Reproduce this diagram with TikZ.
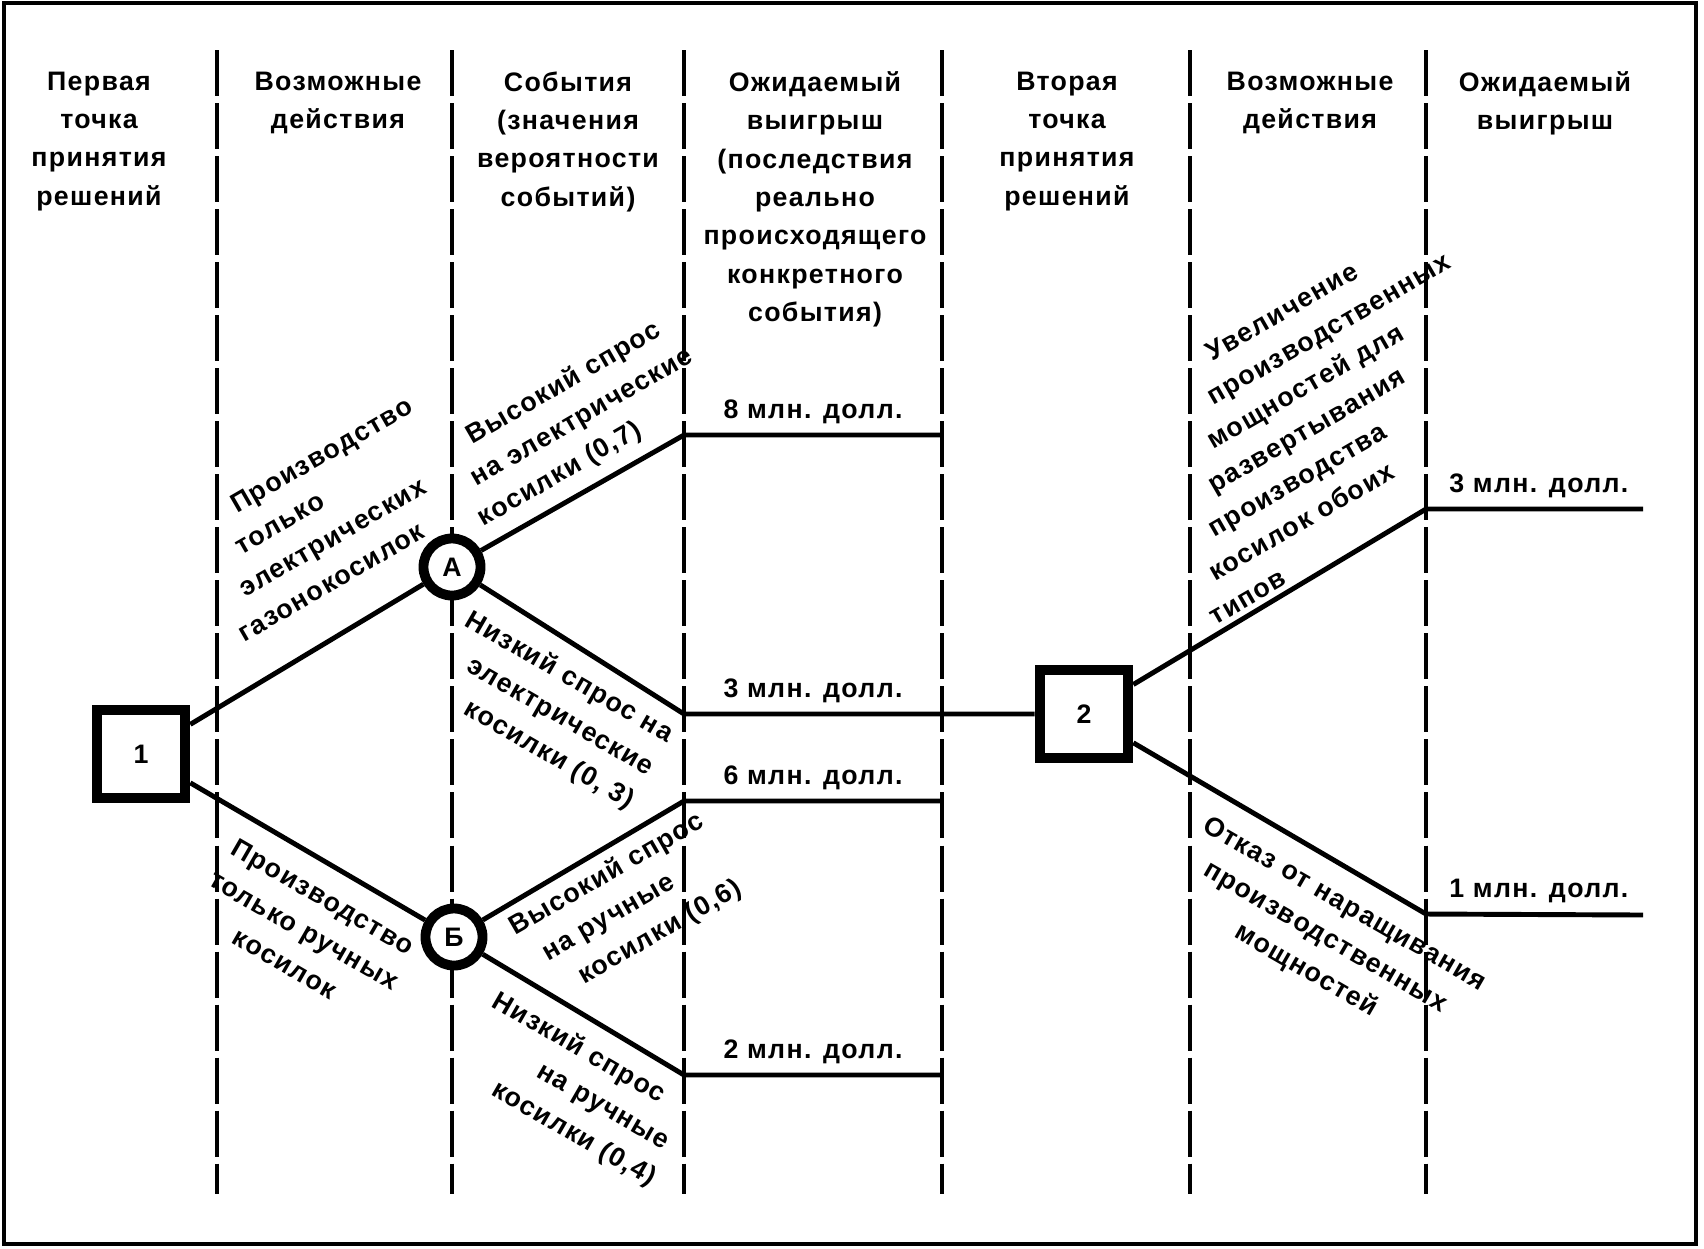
\documentclass[tikz,border=0pt]{standalone}
\usepackage{fontspec}
\setmainfont{Liberation Sans}[LetterSpace=5]

\begin{document}
\begin{tikzpicture}[x=0.01cm, y=-0.01cm,
    every node/.style={font=\fontsize{7.6}{10.9}\selectfont\bfseries},
    decision/.style={draw, fill=white, line width=3pt, minimum size=0.88cm, inner sep=0pt},
    chance/.style={draw, fill=white, circle, line width=2.8pt, minimum size=0.57cm, inner sep=0pt},
    branch/.style={line width=1.4pt},
    column/.style={line width=1pt, dash pattern=on 0.46cm off 0.07cm},
    header/.style={anchor=north, align=center, inner sep=0pt},
    tag/.style={inner sep=0pt},
    payoff/.style={above, inner sep=2.5pt}]

    \useasboundingbox (0,0) rectangle (1704,1248);

    % 1. Frame and column separators
    \draw[line width=1.4pt] (4,3) rectangle (1696,1244);
    \foreach \x in {217,452,684,942,1190,1426}
        \draw[column] (\x,50) -- (\x,1194);

    % 2. Column headers
    \node (H1) [header] at (99,71) {Первая\\точка\\принятия\\решений};
    \node (H2) [header] at (338,71) {Возможные\\действия};
    \node (H3) [header] at (568,71) {События\\(значения\\вероятности\\событий)};
    \node (H4) [header] at (815,71) {Ожидаемый\\выигрыш\\(последствия\\реально\\происходящего\\конкретного\\события)};
    \node (H5) [header] at (1067,71) {Вторая\\точка\\принятия\\решений};
    \node (H6) [header] at (1310,71) {Возможные\\действия};
    \node (H7) [header] at (1545,71) {Ожидаемый\\выигрыш};

    % 3. Decision points and chance events
    \node (D1) [decision] at (141,754) {1};
    \node (D2) [decision] at (1084,714) {2};
    \node (A) [chance] at (452,567) {А};
    \node (B) [chance] at (454,937) {Б};

    % ends of the branches
    \coordinate (E8) at (684,435);  \coordinate (P8) at (942,435);
    \coordinate (E3) at (684,714);  \coordinate (P3) at (942,714);
    \coordinate (E6) at (684,801);  \coordinate (P6) at (942,801);
    \coordinate (E2) at (684,1075); \coordinate (P2) at (942,1075);
    \coordinate (F3) at (1426,509); \coordinate (Q3) at (1643,509);
    \coordinate (F1) at (1426,914); \coordinate (Q1) at (1643,915);

    % 4. Branches with payoffs
    \draw[branch] (D1) -- (A);
    \draw[branch] (D1) -- (B);
    \draw[branch] (A) -- (E8) -- (P8) node[payoff, midway] {8 млн. долл.};
    \draw[branch] (A) -- (E3) -- (P3) node[payoff, midway] {3 млн. долл.} -- (D2);
    \draw[branch] (B) -- (E6) -- (P6) node[payoff, midway] {6 млн. долл.};
    \draw[branch] (B) -- (E2) -- (P2) node[payoff, midway] {2 млн. долл.};
    \draw[branch] (D2) -- (F3) -- (Q3) node[payoff, pos=0.52] {3 млн. долл.};
    \draw[branch] (D2) -- (F1) -- (Q1) node[payoff, pos=0.52] {1 млн. долл.};

    % 5. Labels along the branches (rotated)
    \node (L1) [tag, rotate=30, align=left] at (325,519)
        {\hspace*{16.5pt}Производство\\\hspace*{11.7pt}только\\\hspace*{6.8pt}электрических\\газонокосилок};
    \node (L2) [tag, rotate=30, align=left] at (576,421)
        {\hspace*{8.8pt}Высокий спрос\\\hspace*{4pt}на электрические\\косилки (0,7)};
    \node (L3) [tag, rotate=-30, align=right, anchor=east] at (652,770)
        {Низкий спрос на\\электрические\\косилки (0, 3)};
    \node (L4) [tag, rotate=-30, align=center] at (304,930)
        {Производство\\только ручных\\косилок};
    \node (L5) [tag, rotate=30, align=left] at (626,908)
        {Высокий спрос\\\hspace*{4.6pt}на ручные\\\hspace*{10pt}косилки (0,6)};
    \node (L6) [tag, rotate=-30, align=left] at (574,1090)
        {Низкий спрос\\\hspace*{21pt}на ручные\\\hspace*{12.5pt}косилки (0,4)};
    \node (L7) [tag, rotate=30, align=left] at (1320,422)
        {\hspace*{36.9pt}Увеличение\\\hspace*{30.8pt}производственных\\\hspace*{24.6pt}мощностей для\\\hspace*{18.5pt}развертывания\\\hspace*{12.3pt}производства\\\hspace*{6.2pt}косилок обоих\\типов};
    \node (L8) [tag, rotate=-30, align=center] at (1325,938)
        {Отказ от наращивания\\производственных\\мощностей};

\end{tikzpicture}
\end{document}
